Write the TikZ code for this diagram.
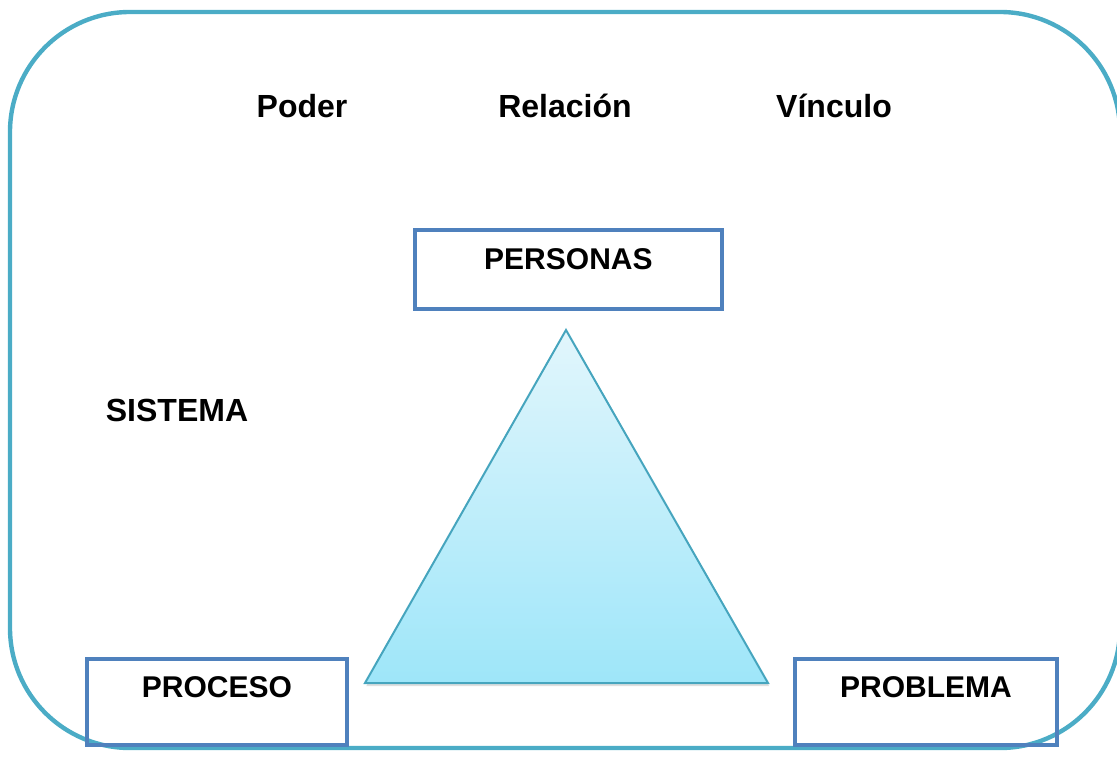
\documentclass[tikz,border=0pt]{standalone}
\usepackage{xcolor}
\usepackage{tikz}
\usepackage{fontspec}
\setmainfont{Liberation Sans}
\usetikzlibrary{shadows}

\definecolor{rimteal}{RGB}{75,172,198}
\definecolor{boxblue}{RGB}{79,129,189}
\definecolor{tririm}{RGB}{70,165,190}
\definecolor{tritop}{RGB}{226,246,252}
\definecolor{tribot}{RGB}{158,230,249}

\tikzset{
    word/.style={font=\fontsize{16}{19}\selectfont\bfseries, inner sep=0pt, anchor=base},
    casebox/.style={draw=boxblue, line width=1.9pt, inner xsep=0pt, inner ysep=0pt,
        font=\fontsize{15}{18}\selectfont\bfseries, anchor=north west}
}

\begin{document}
\begin{tikzpicture}[x=0.5pt, y=-0.5pt]
            \useasboundingbox (0, 0) rectangle (1117, 758);
            \draw[rimteal, line width=2.2pt, rounded corners=60pt] (10, 12) rectangle (1120, 748);

            \node[word] (Poder) at (302, 118) {Poder};
            \node[word] (Rel) at (565, 118) {Relación};
            \node[word] (Vinc) at (834, 118) {Vínculo};
            \node[word] (Sis) at (177, 422) {SISTEMA};

            \node[casebox, minimum width=153.5pt, text height=19.75pt, text depth=19.75pt]
                (Pers) at (413, 228) {PERSONAS};
            \node[casebox, minimum width=130pt, text height=19.25pt, text depth=23.75pt]
                (Proc) at (85, 657) {PROCESO};
            \node[casebox, minimum width=131pt, text height=19.25pt, text depth=23.75pt]
                (Probl) at (793, 657) {PROBLEMA};

            % triangulo
            \coordinate (T) at (566, 330);
            \coordinate (L) at (365, 683);
            \coordinate (R) at (768, 683);
            \path[draw=tririm, line width=1pt, top color=tritop, bottom color=tribot,
                drop shadow={shadow xshift=0.6pt, shadow yshift=-1.6pt, opacity=0.25}]
                (T) -- (R) -- (L) -- cycle;
        \end{tikzpicture}
\end{document}
